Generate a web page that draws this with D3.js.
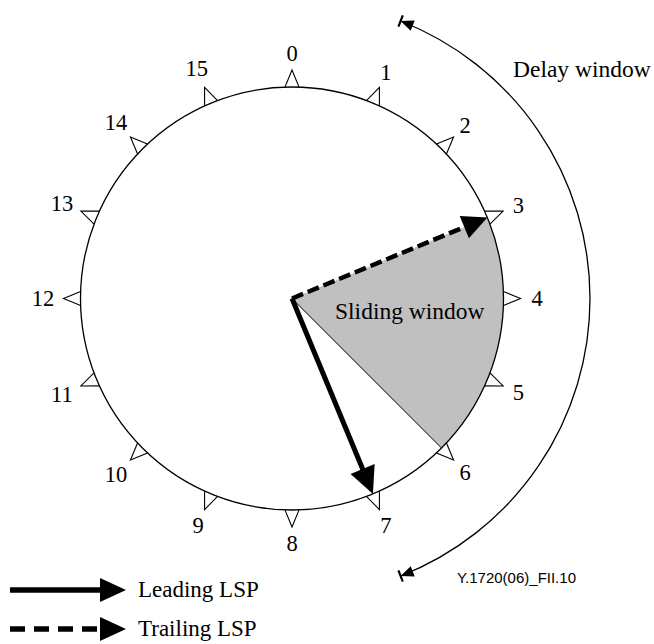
<!DOCTYPE html>
<html>
<head>
<meta charset="utf-8">
<script src="https://cdn.jsdelivr.net/npm/d3@7"></script>
<style>
  body { margin: 0; background: #fff; }
  svg { display: block; }
  text { font-family: "Liberation Serif", "Times New Roman", serif; fill: #000; }
</style>
</head>
<body>
<div id="chart"></div>
<script>
// Numéros de séquence autour de l'anneau
const seqLabels = d3.range(16).map(String);
const slidingWindow = [3, 6];      // secteur grisé (positions de séquence)
const leadingPos = 7;              // LSP en tête
const trailingPos = 3;             // LSP en queue
const delayWindow = [0.95, 7.05];  // étendue de la fenêtre de délai
const legendItems = ["Leading LSP", "Trailing LSP"];
const delayLabel = "Delay window";
const slidingLabel = "Sliding window";
const figId = "Y.1720(06)_FII.10";

const width = 654, height = 644;
const cx = 292, cy = 298.5, R = 211.5;

const svg = d3.select("#chart")
    .append("svg")
    .attr("width", width)
    .attr("height", height);

// position -> angle (sens horaire depuis midi)
const angle = d3.scaleLinear()
    .domain([0, seqLabels.length])
    .range([0, 2 * Math.PI]);

const pt = (a, r) => [cx + r * Math.sin(a), cy - r * Math.cos(a)];

/**
 * Trace une flèche droite avec une tête pleine.
 */
function arrow(sel, [x1, y1], [x2, y2], { w, headLen, headHalf, dash }) {
    const L = Math.hypot(x2 - x1, y2 - y1);
    const ux = (x2 - x1) / L, uy = (y2 - y1) / L;
    const bx = x2 - ux * headLen, by = y2 - uy * headLen;
    sel.append("line")
        .attr("x1", x1).attr("y1", y1)
        .attr("x2", x2 - ux * (headLen - 2)).attr("y2", y2 - uy * (headLen - 2))
        .attr("stroke", "#000")
        .attr("stroke-width", w)
        .attr("stroke-dasharray", dash || null);
    sel.append("path")
        .attr("d", `M${x2},${y2}L${bx - uy * headHalf},${by + ux * headHalf}L${bx + uy * headHalf},${by - ux * headHalf}Z`)
        .attr("fill", "#000");
}

const g = svg.append("g");

// Fenêtre glissante (secteur gris)
g.append("path")
    .attr("transform", `translate(${cx},${cy})`)
    .attr("d", d3.arc()({
        innerRadius: 0,
        outerRadius: R,
        startAngle: angle(slidingWindow[0]),
        endAngle: angle(slidingWindow[1])
    }))
    .attr("fill", "#c0c0c0");

const edge = pt(angle(slidingWindow[1]), R);
g.append("line")
    .attr("x1", cx).attr("y1", cy)
    .attr("x2", edge[0]).attr("y2", edge[1])
    .attr("stroke", "#000")
    .attr("stroke-width", 1);

// Anneau
g.append("circle")
    .attr("cx", cx).attr("cy", cy).attr("r", R)
    .attr("fill", "none")
    .attr("stroke", "#000")
    .attr("stroke-width", 1.3);

// Repères triangulaires
const tickH = 17;
const tickHalf = Math.tan(Math.PI / 8) * tickH;
g.selectAll(".seq-tick")
    .data(seqLabels)
    .join("path")
    .attr("class", "seq-tick")
    .attr("d", (d, i) => {
        const a = angle(i), da = tickHalf / R;
        const p1 = pt(a - da, R), p2 = pt(a + da, R), p3 = pt(a, R + tickH);
        return `M${p1}L${p3}L${p2}`;
    })
    .attr("fill", "none")
    .attr("stroke", "#000")
    .attr("stroke-width", 1.1);

g.selectAll(".seq-label")
    .data(seqLabels)
    .join("text")
    .attr("class", "seq-label")
    .attr("x", (d, i) => pt(angle(i), d.length > 1 ? 249 : 245)[0])
    .attr("y", (d, i) => pt(angle(i), d.length > 1 ? 249 : 245)[1])
    .attr("dy", "0.35em")
    .attr("text-anchor", "middle")
    .attr("font-size", 22.5)
    .text(d => d);

// Flèches LSP
arrow(g, [cx, cy], pt(angle(leadingPos), R), { w: 5, headLen: 27, headHalf: 13 });
arrow(g, [cx, cy], pt(angle(trailingPos), R), { w: 4.5, headLen: 25, headHalf: 12, dash: "12,5" });

g.append("text")
    .attr("x", 335).attr("y", 319)
    .attr("font-size", 23.5)
    .text(slidingLabel);

// Fenêtre de délai : arc concentrique avec butées
const RD = 298;
const a0 = angle(delayWindow[0]), a1 = angle(delayWindow[1]);
const dp = d3.path();
dp.arc(cx, cy, RD, a0 - Math.PI / 2, a1 - Math.PI / 2);
g.append("path")
    .attr("d", dp.toString())
    .attr("fill", "none")
    .attr("stroke", "#000")
    .attr("stroke-width", 1.3);

[[a0, -1], [a1, 1]].forEach(([a, s]) => {
    const [tx, ty] = pt(a, RD);
    const ux = s * Math.cos(a), uy = s * Math.sin(a);   // tangente vers l'extérieur de l'arc
    const rx = Math.sin(a), ry = -Math.cos(a);          // direction radiale
    const hl = 13, hh = 5.5;
    const bx = tx - ux * hl, by = ty - uy * hl;
    g.append("path")
        .attr("d", `M${tx},${ty}L${bx + rx * hh},${by + ry * hh}L${bx - rx * hh},${by - ry * hh}Z`)
        .attr("fill", "#000");
    g.append("line")
        .attr("x1", tx - rx * 6).attr("y1", ty - ry * 6)
        .attr("x2", tx + rx * 6).attr("y2", ty + ry * 6)
        .attr("stroke", "#000")
        .attr("stroke-width", 2.2);
});

g.append("text")
    .attr("x", 513).attr("y", 77)
    .attr("font-size", 23.5)
    .text(delayLabel);

g.append("text")
    .attr("x", 457).attr("y", 583)
    .attr("font-size", 15)
    .style("font-family", "'Liberation Sans', Arial, sans-serif")
    .text(figId);

// Légende
const legendY = d3.scalePoint().domain(legendItems).range([590, 629]);
legendItems.forEach((name, i) => {
    const y = legendY(name);
    arrow(g, [10, y], [126, y], { w: 5.5, headLen: 26, headHalf: 12, dash: i === 1 ? "15,9" : null });
    g.append("text")
        .attr("x", 138).attr("y", y)
        .attr("dy", "0.32em")
        .attr("font-size", 23)
        .text(name);
});
</script>
</body>
</html>
